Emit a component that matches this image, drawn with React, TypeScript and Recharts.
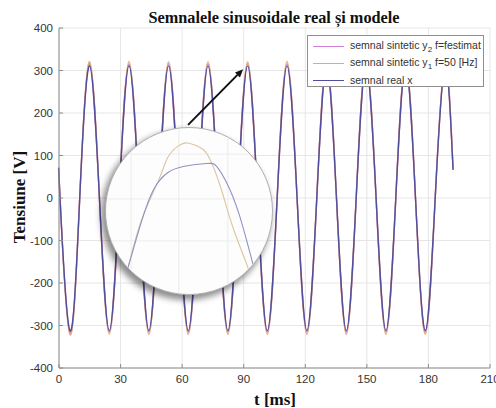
import { LineChart, Line, XAxis, YAxis, CartesianGrid, ReferenceLine } from 'recharts'

const tMs = [
  0, 0.5, 5.3, 10.1, 14.9, 19.7, 24.5, 29.3, 34.1, 39.0, 43.8, 48.6, 53.4, 58.2, 63.0, 67.8,
  72.6, 77.5, 82.3, 87.1, 91.9, 96.7, 101.5, 106.3, 111.1, 116.0, 120.8, 125.6, 130.4, 135.2,
  140.0, 144.8, 149.6, 154.5, 159.3, 164.1, 168.9, 173.7, 178.5, 183.3, 188.1, 192.0,
]
const y2Estimat = [
  53, 0, -316, 0, 316, 0, -316, 0, 316, 0, -316, 0, 316, 0, -316, 0,
  316, 0, -316, 0, 316, 0, -316, 0, 316, 0, -316, 0, 316, 0,
  -316, 0, 316, 0, -316, 0, 316, 0, -316, 0, 316, 68,
]
const y1F50 = [
  55, 0, -321, 0, 321, 0, -321, 0, 321, 0, -321, 0, 321, 0, -321, 0,
  321, 0, -321, 0, 321, 0, -321, 0, 321, 0, -321, 0, 321, 0,
  -321, 0, 321, 0, -321, 0, 321, 0, -321, 0, 321, 70,
]
const xReal = [
  52, 0, -312, 0, 311, 0, -312, 0, 311, 0, -312, 0, 311, 0, -312, 0,
  311, 0, -312, 0, 311, 0, -312, 0, 311, 0, -312, 0, 311, 0,
  -312, 0, 311, 0, -312, 0, 311, 0, -312, 0, 311, 66,
]

const xTicks = [0, 30, 60, 90, 120, 150, 180, 210]
const yTicks = [-400, -300, -200, -100, 0, 100, 200, 300, 400]

// magnified peak (inset)
const zoomRealT = [89.5, 89.8, 90.25, 90.7, 91.2, 91.8, 92.6, 92.95, 93.3, 93.75, 94.25, 94.5]
const zoomRealV = [242, 256, 279, 297, 306, 309.5, 311, 309.5, 301, 284, 257, 243]
const zoomF50T = [89.5, 89.8, 90.25, 90.85, 91.2, 91.55, 91.9, 92.3, 92.65, 93.1, 93.55, 94.05, 94.3]
const zoomF50V = [242, 256, 280, 301, 314, 320, 322, 320, 315, 298, 276, 256, 242]
const zoomGridT = [89.9, 91.6, 93.35]
const zoomGridV = [269.5, 292, 316]

const arrowFrom = { t: 62.9, v: 172 }
const arrowTo = { t: 89.7, v: 303 }

const colors = { y2: '#cf7fd6', y1: '#e2a877', x: '#524d9c' }

const legendItems = [
  { label: 'semnal sintetic y', sub: '2', tail: ' f=festimat', color: colors.y2 },
  { label: 'semnal sintetic y', sub: '1', tail: ' f=50 [Hz]', color: colors.y1 },
  { label: 'semnal real x', sub: '', tail: '', color: colors.x },
]

const rows = tMs.map((t, i) => ({ t, y2: y2Estimat[i], y1: y1F50[i], x: xReal[i] }))
const zoomReal = zoomRealT.map((t, i) => ({ t, v: zoomRealV[i] }))
const zoomF50 = zoomF50T.map((t, i) => ({ t, v: zoomF50V[i] }))

const tickStyle = { fontSize: 11.5, fill: '#333', fontFamily: 'Liberation Sans, Arial, sans-serif' }
const axisGrey = '#8c8c8c'
const serif = 'Liberation Serif, Times New Roman, serif'

function Arrow(p: any) {
  const { x1, y1, x2, y2 } = p
  const ang = Math.atan2(y2 - y1, x2 - x1)
  const L = 8, W = 3.5
  const bx = x2 - L * Math.cos(ang), by = y2 - L * Math.sin(ang)
  const px = -Math.sin(ang) * W, py = Math.cos(ang) * W
  return (
    <g>
      <line x1={x1} y1={y1} x2={bx} y2={by} stroke="#111" strokeWidth={2} />
      <polygon points={`${x2},${y2} ${bx + px},${by + py} ${bx - px},${by - py}`} fill="#111" />
    </g>
  )
}

export default function App() {
  return (
    <div style={{ position: 'absolute', left: 0, top: 0, width: 496, height: 408, background: '#fff', overflow: 'hidden' }}>
      <LineChart width={496} height={408} data={rows} margin={{ top: 28, right: 6, left: 0, bottom: 0 }}>
        <CartesianGrid stroke="#e6e6e6" />
        <XAxis dataKey="t" type="number" domain={[0, 210]} ticks={xTicks} height={40}
          stroke={axisGrey} tick={tickStyle} tickSize={-4} tickMargin={11} interval={0} />
        <XAxis xAxisId="top" orientation="top" type="number" domain={[0, 210]} ticks={xTicks} height={0}
          stroke={axisGrey} tick={false} tickSize={-4} />
        <YAxis type="number" domain={[-400, 400]} ticks={yTicks} width={59}
          stroke={axisGrey} tick={tickStyle} tickSize={-4} tickMargin={10} interval={0} />
        <YAxis yAxisId="r" orientation="right" type="number" domain={[-400, 400]} ticks={yTicks} width={0}
          stroke={axisGrey} tick={false} tickSize={-4} />
        <Line type="natural" dataKey="y2" stroke={colors.y2} strokeWidth={1.4} dot={false} isAnimationActive={false} />
        <Line type="natural" dataKey="y1" stroke={colors.y1} strokeWidth={1.4} dot={false} isAnimationActive={false} />
        <Line type="natural" dataKey="x" stroke={colors.x} strokeWidth={1.4} dot={false} isAnimationActive={false} />
        <ReferenceLine segment={[{ x: arrowFrom.t, y: arrowFrom.v }, { x: arrowTo.t, y: arrowTo.v }]}
          shape={Arrow} ifOverflow="visible" />
      </LineChart>

      <div style={{
        position: 'absolute', left: 105, top: 127, width: 168, height: 168, borderRadius: '50%',
        overflow: 'hidden', background: '#fdfdfd', border: '1px solid #b0b0b0', boxSizing: 'border-box',
        boxShadow: '-3px 4px 6px 1px rgba(0,0,0,0.45)',
      }}>
        <LineChart width={168} height={168} margin={{ top: 0, right: 0, left: 0, bottom: 0 }}>
          <CartesianGrid stroke="#ececec" verticalValues={zoomGridT} horizontalValues={zoomGridV} />
          <XAxis dataKey="t" type="number" domain={[89, 95]} hide allowDataOverflow />
          <YAxis type="number" domain={[240, 330]} hide allowDataOverflow />
          <Line data={zoomF50} type="natural" dataKey="v" stroke="#dcc4a0" strokeWidth={1.1} dot={false} isAnimationActive={false} />
          <Line data={zoomReal} type="natural" dataKey="v" stroke="#9191c4" strokeWidth={1.1} dot={false} isAnimationActive={false} />
        </LineChart>
      </div>

      <div style={{
        position: 'absolute', left: 307, top: 35, width: 177, height: 52, border: '1px solid #8f8f8f',
        background: '#fff', boxSizing: 'border-box', fontFamily: 'Liberation Sans, Arial, sans-serif',
        fontSize: 10.5, color: '#333',
      }}>
        {legendItems.map((it, i) => (
          <div key={i} style={{ position: 'absolute', left: 0, top: 2 + i * 17, height: 16, display: 'flex', alignItems: 'center', whiteSpace: 'nowrap' }}>
            <span style={{ display: 'inline-block', marginLeft: 5, width: 31, height: 0, borderTop: `1.3px solid ${it.color}` }} />
            <span style={{ marginLeft: 6 }}>
              {it.label}
              {it.sub && <sub style={{ fontSize: 8, verticalAlign: -3 }}>{it.sub}</sub>}
              {it.tail}
            </span>
          </div>
        ))}
      </div>

      <div style={{
        position: 'absolute', left: 274, top: 8, transform: 'translateX(-50%)', whiteSpace: 'nowrap',
        fontFamily: serif, fontWeight: 'bold', fontSize: 16.3, lineHeight: '19px', color: '#111',
      }}>
        Semnalele sinusoidale real și modele
      </div>
      <div style={{
        position: 'absolute', left: 20, top: 197, transform: 'translate(-50%, -50%) rotate(-90deg)', whiteSpace: 'nowrap',
        fontFamily: serif, fontWeight: 'bold', fontSize: 17, lineHeight: '18px', color: '#111',
      }}>
        Tensiune [V]
      </div>
      <div style={{
        position: 'absolute', left: 275, top: 400, transform: 'translate(-50%, -50%)', whiteSpace: 'nowrap',
        fontFamily: serif, fontWeight: 'bold', fontSize: 17, lineHeight: '18px', color: '#111',
      }}>
        t [ms]
      </div>
    </div>
  )
}
